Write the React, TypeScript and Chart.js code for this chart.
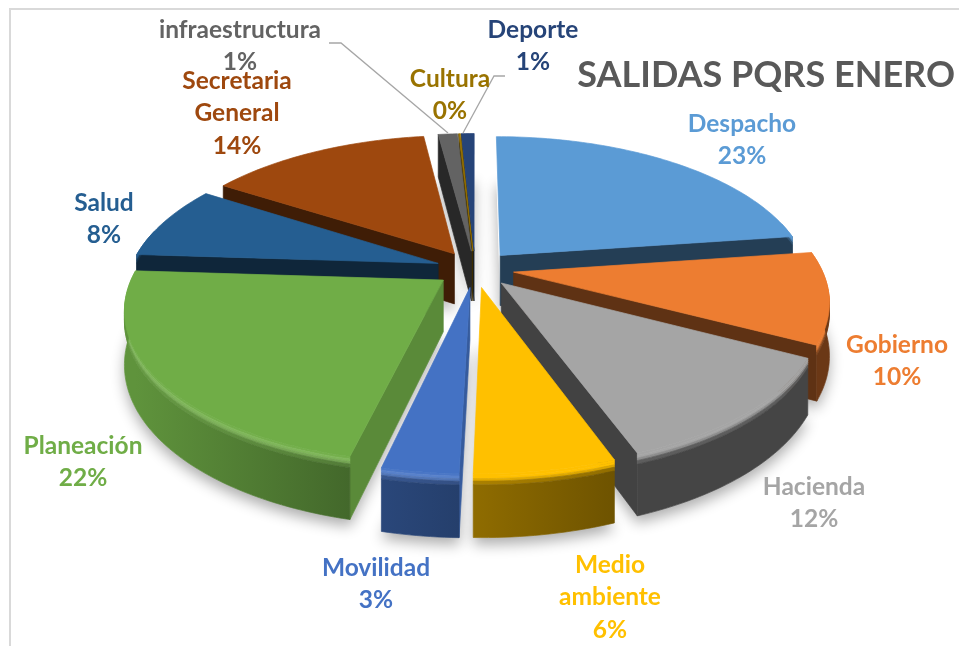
import React, { useEffect, useRef } from "react";
import { Chart, registerables } from "chart.js";

Chart.register(...registerables);

const categories = ["Despacho", "Gobierno", "Hacienda", "Medio ambiente", "Movilidad", "Planeación", "Salud", "Secretaria General", "infraestructura", "Cultura", "Deporte"];
const salidas = [22.8, 9.8, 11.8, 6.0, 3.25, 22.35, 8, 13.9, 1.2, 0.1, 0.8];
const labelLines = [["Despacho"], ["Gobierno"], ["Hacienda"], ["Medio", "ambiente"], ["Movilidad"], ["Planeación"], ["Salud"], ["Secretaria", "General"], ["infraestructura"], ["Cultura"], ["Deporte"]];
const titleText = "SALIDAS PQRS ENERO";

const colors = ["#5b9bd5", "#ed7d31", "#a5a5a5", "#ffc000", "#4472c4", "#70ad47", "#255e91", "#9e480e", "#636363", "#997300", "#264478"];
const rimShades = [[0.4, 0.4], [0.45, 0.45], [0.42, 0.42], [0.43, 0.56], [0.55, 0.62], [0.6, 0.85], [0.4, 0.4], [0.4, 0.4], [0.4, 0.4], [0.4, 0.4], [0.5, 0.5]];
const bevelLight = [0, 0, 0, 0, 0.14, 0.14, 0, 0, 0, 0, 0];
const labelAnchors = [[742, 124], [897, 345], [814, 487], [610, 565], [376, 568], [83, 446], [104, 203], [237, 81], [240, 30], [450, 79], [533, 30]];
const leaders = [[[329, 43], [341, 43], [448, 133]], [[505, 76], [494, 76], [463, 133]]];

const CX = 475, CY = 269, TILT = 0.47, PERSP = 1700, DEPTH = 51, BEVEL = 9;
const FONT = "Lato, 'Open Sans', sans-serif";

const project = (px: number, py: number, h: number) => {
  const f = 1 / (1 - py / PERSP);
  return [CX + px * f, CY + py * TILT * f + h * f];
};
const rgb = (hex: string) => [1, 3, 5].map((i) => parseInt(hex.slice(i, i + 2), 16));
const css = (c: number[]) => `rgb(${c.map((v) => Math.round(Math.min(255, v))).join(",")})`;
const mix = (a: number[], b: number[], t: number) => a.map((v, i) => v + (b[i] - v) * t);

const trace = (ctx: any, pts: number[][]) => {
  ctx.beginPath();
  pts.forEach((p, i) => (i ? ctx.lineTo(p[0], p[1]) : ctx.moveTo(p[0], p[1])));
  ctx.closePath();
};
const poly = (ctx: any, pts: number[][], color: any) => {
  trace(ctx, pts);
  ctx.fillStyle = color;
  ctx.strokeStyle = color;
  ctx.lineWidth = 0.7;
  ctx.fill();
  ctx.stroke();
};

const pie3d = {
  id: "pie3d",
  beforeDraw(chart: any) {
    const { ctx, width } = chart;
    ctx.save();
    ctx.fillStyle = "#ffffff";
    ctx.fillRect(0, 0, width, chart.height);
    ctx.strokeStyle = "#d9d9d9";
    ctx.lineWidth = 2;
    ctx.beginPath();
    ctx.moveTo(10, chart.height);
    ctx.lineTo(10, 9);
    ctx.lineTo(width, 9);
    ctx.stroke();
    ctx.restore();
  },
  beforeDatasetDraw(chart: any, args: any) {
    const { ctx } = chart;
    const slices = args.meta.data.map((arc: any, i: number) => {
      const s = arc.startAngle, e = arc.endAngle, r = arc.outerRadius;
      const mid = (s + e) / 2;
      const off = arc.options.offset || 0;
      const ox = Math.cos(mid) * off, oy = Math.sin(mid) * off;
      const n = Math.max(2, Math.ceil((e - s) / 0.02));
      const plane: number[][] = [];
      for (let k = 0; k <= n; k++) {
        const a = s + ((e - s) * k) / n;
        plane.push([ox + r * Math.cos(a), oy + r * Math.sin(a), a]);
      }
      return { i, s, e, ox, oy, plane, depth: Math.sin(mid) };
    });
    slices.sort((a: any, b: any) => a.depth - b.depth);

    ctx.save();
    ctx.shadowColor = "rgba(0,0,0,0.32)";
    ctx.shadowBlur = 14;
    ctx.shadowOffsetY = 7;
    slices.forEach((sl: any) => {
      const pts = [project(sl.ox, sl.oy, DEPTH), ...sl.plane.map((p: number[]) => project(p[0], p[1], DEPTH))];
      trace(ctx, pts);
      ctx.fillStyle = "#ffffff";
      ctx.fill();
    });
    ctx.restore();

    slices.forEach((sl: any) => {
      const base = rgb(colors[sl.i]);
      const black = [0, 0, 0];
      const white = [255, 255, 255];
      const wall = (a: number, edge: number[], sign: number) => {
        const nx = sign * Math.sin(a), ny = -sign * Math.cos(a);
        if (ny <= 0) return;
        const shade = nx > 0.5 ? 0.8 : 0.4;
        poly(ctx, [project(sl.ox, sl.oy, 0), project(edge[0], edge[1], 0), project(edge[0], edge[1], DEPTH), project(sl.ox, sl.oy, DEPTH)], css(mix(black, base, shade)));
      };
      wall(sl.s, sl.plane[0], 1);
      wall(sl.e, sl.plane[sl.plane.length - 1], -1);

      const front = sl.plane.filter((p: number[]) => Math.sin(p[2]) > -0.25);
      if (front.length > 1) {
        const [sh0, sh1] = rimShades[sl.i];
        const levels = [0, 2, 4, 6, BEVEL, DEPTH];
        const light = mix(base, white, bevelLight[sl.i]);
        for (let l = 0; l < levels.length - 1; l++) {
          const upper = front.map((p: number[]) => project(p[0], p[1], levels[l]));
          const lower = front.map((p: number[]) => project(p[0], p[1], levels[l + 1]));
          const xStart = upper[0][0], xEnd = upper[upper.length - 1][0];
          const grad = ctx.createLinearGradient(xStart, 0, xEnd === xStart ? xStart + 1 : xEnd, 0);
          [0, 1].forEach((t) => {
            const rim = mix(black, base, t ? sh1 : sh0);
            const u = (l + 0.5) / (levels.length - 2);
            const tone = l === levels.length - 2 ? rim : u < 0.5 ? mix(base, light, u * 2) : mix(light, rim, (u - 0.5) * 2);
            grad.addColorStop(t, css(tone));
          });
          poly(ctx, [...upper, ...lower.reverse()], grad);
        }
      }
      poly(ctx, [project(sl.ox, sl.oy, 0), ...sl.plane.map((p: number[]) => project(p[0], p[1], 0))], colors[sl.i]);
    });
    return false;
  },
  afterDraw(chart: any) {
    const { ctx } = chart;
    ctx.save();
    ctx.strokeStyle = "#a6a6a6";
    ctx.lineWidth = 1.3;
    leaders.forEach((line) => {
      ctx.beginPath();
      line.forEach((p, i) => (i ? ctx.lineTo(p[0], p[1]) : ctx.moveTo(p[0], p[1])));
      ctx.stroke();
    });
    ctx.font = `bold 24.5px ${FONT}`;
    ctx.textAlign = "center";
    ctx.textBaseline = "middle";
    const total = salidas.reduce((a, b) => a + b, 0);
    categories.forEach((_, i) => {
      const lines = [...labelLines[i], `${Math.round((salidas[i] / total) * 100)}%`];
      ctx.fillStyle = colors[i];
      lines.forEach((txt, k) => ctx.fillText(txt, labelAnchors[i][0], labelAnchors[i][1] + k * 32.5));
    });
    ctx.restore();
  },
};

export default function App() {
  const ref = useRef<HTMLCanvasElement>(null);
  useEffect(() => {
    const chart = new Chart(ref.current as HTMLCanvasElement, {
      type: "pie",
      data: {
        labels: categories,
        datasets: [{ data: salidas, backgroundColor: colors, borderWidth: 0, offset: 39 }],
      },
      options: {
        responsive: false,
        animation: false,
        radius: 308,
        layout: { padding: { right: 4 } },
        plugins: {
          legend: { display: false },
          tooltip: { enabled: false },
          title: {
            display: true,
            text: titleText,
            align: "end",
            color: "#595959",
            font: { family: FONT, size: 36, weight: "bold" },
            padding: { top: 54, bottom: 0 },
          },
        },
      },
      plugins: [pie3d],
    } as any);
    return () => chart.destroy();
  }, []);
  return (
    <div style={{ position: "absolute", left: 0, top: 0 }}>
      <canvas ref={ref} width={959} height={646} style={{ display: "block" }} />
    </div>
  );
}
